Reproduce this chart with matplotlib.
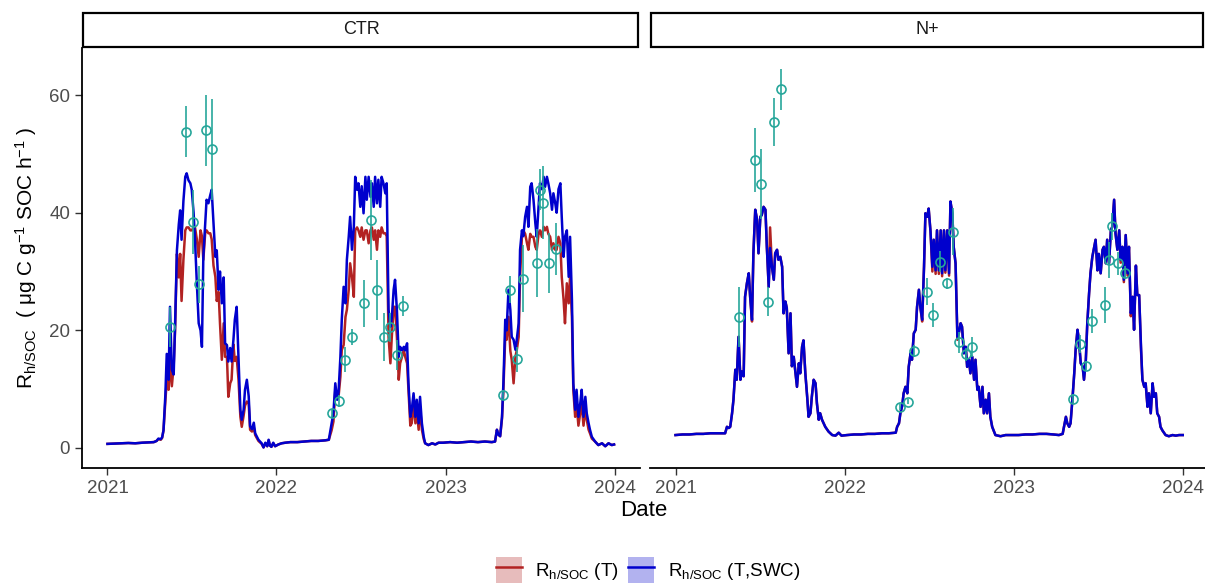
import numpy as np
import matplotlib
matplotlib.use("Agg")
import matplotlib.pyplot as plt
from matplotlib.patches import Patch, Rectangle
from matplotlib.lines import Line2D

plt.rcParams['font.family'] = ['Liberation Sans', 'DejaVu Sans']
plt.rcParams['mathtext.fontset'] = 'custom'
plt.rcParams['mathtext.rm'] = 'Liberation Sans'
plt.rcParams['mathtext.it'] = 'Liberation Sans:italic'
plt.rcParams['mathtext.default'] = 'regular'

# ---------------- data (day offsets from 2021-01-01) ----------------
panels = ["CTR", "N+"]
years = [2021, 2022, 2023, 2024]
y_ticks = [0, 20, 40, 60]

ctr_days = [
    0, 15, 30, 45, 60, 75, 90, 100, 106, 110, 115, 118,
    121, 125, 128, 132, 135, 139, 143, 146, 150, 154, 157, 160, 164, 168, 171, 175, 179, 182, 186, 189,
    193, 197, 201, 204, 207, 211, 214, 218, 222, 225, 229, 233, 236, 240, 243, 247, 251, 254, 258, 261,
    265, 268, 272, 275, 279, 283, 287, 290, 294, 297, 301, 305, 308, 312, 316, 319, 326, 333, 337, 341,
    345, 348, 351, 354, 358, 362, 369, 376, 384,
    395, 410, 425, 440, 455, 470, 478,
    484, 488, 492, 496, 499, 503, 506, 510, 514, 517, 521, 524, 528, 532, 535, 539, 542, 546, 549, 553,
    557, 560, 564, 568, 571, 575, 578, 582, 585, 589, 592, 596, 600, 603, 605, 607, 611, 614, 618, 621,
    625, 629, 632, 636, 640, 643, 647, 650, 654, 657, 661, 665, 668, 672, 675, 679, 683, 686, 693, 701,
    708, 715,
    725, 740, 755, 770, 785, 800, 815, 830, 837,
    841, 844, 848, 852, 855, 859, 862, 866, 870, 873, 877, 881, 884, 888, 891, 895, 898, 902, 906, 909,
    913, 916, 920, 924, 927, 931, 934, 938, 942, 945, 949, 952, 956, 960, 963, 967, 970, 974, 978, 981,
    985, 988, 992, 996, 999, 1003, 1006, 1010, 1013, 1017, 1021, 1024, 1028, 1032, 1035, 1039, 1042, 1046,
    1053, 1060, 1068, 1075, 1082, 1089, 1094]

ctr_swc = [
    0.7, 0.75, 0.8, 0.85, 0.8, 0.9, 0.95, 1.0, 1.2, 1.6, 1.5, 1.8,
    3, 9, 16, 11.6, 24, 13.3, 12.5, 21, 33.6, 38, 40.4, 35.4, 42, 46.1, 46.7, 45.5, 45, 43.9, 40, 35.4,
    28, 21.2, 20, 17.2, 32.5, 38.2, 42.2, 41.6, 43, 43.9, 38.2, 32.5, 33.6, 26.9, 30, 24.6, 29, 17.8, 17.5, 14.7,
    17, 14.7, 18.4, 21.8, 24, 15.5, 6.5, 4.8, 6.5, 9.9, 11.6, 8.8, 3.7, 3.2, 4.3, 2.5, 1.4, 0.8, 0.1, 0.9,
    0.3, 1.4, 0.4, 0.2, 0.9, 0.3, 0.6, 0.8, 0.9,
    1.0, 1.0, 1.1, 1.2, 1.2, 1.3, 1.4,
    4.2, 6, 11, 8.2, 9.5, 15.5, 21.8, 27.4, 24.6, 32, 35.9, 39.3, 33.7, 37.6, 46.1, 43.9, 45, 41, 44.5, 39.9,
    46.1, 42.2, 46.1, 42.7, 45, 41, 46.1, 41.6, 45.6, 41, 46.1, 45, 43.3, 45, 33.7, 23.5, 20.6, 22.1, 26.9, 28.6,
    23.5, 15.5, 17.2, 16.6, 17.2, 16.6, 17.8, 11, 5.3, 6.4, 9.3, 5.3, 8.2, 4.2, 8.7, 4.2, 1.9, 0.8, 0.5, 0.8,
    0.6, 0.9,
    0.9, 1.0, 0.9, 1.0, 1.1, 1.0, 1.1, 1.0, 1.1,
    3.1, 2.3, 2.0, 5.3, 11, 21.8, 20, 26.9, 23.5, 18.9, 18.4, 16.7, 18.5, 21.2, 33.7, 37, 36, 39.3, 41, 37.6,
    44.4, 45, 42.2, 38.2, 35.9, 41, 45, 44, 46.1, 44.4, 46.1, 45, 43.3, 40.5, 43.3, 41.6, 40, 44, 45, 39.3,
    32.5, 35.9, 37, 29.1, 35.9, 25.2, 11, 6.5, 9.9, 5.3, 7.6, 9.9, 5.3, 8.7, 5.9, 4.2, 3.1, 1.9,
    1.1, 0.5, 0.8, 0.3, 0.8, 0.5, 0.6]

ctr_t = [
    0.7, 0.75, 0.8, 0.85, 0.8, 0.9, 0.95, 1.0, 1.2, 1.5, 1.4, 1.7,
    3, 8, 11.6, 9.9, 15, 10.5, 14, 20, 33, 29, 33, 25, 32, 37, 37.5, 37.5, 37, 37, 37.5, 37.5,
    35.5, 32.5, 37, 36, 32, 36.5, 37, 36.5, 36.5, 35.5, 31, 29.1, 25, 26.5, 21.2, 15, 21.2, 15.5, 15.5, 8.7,
    11, 11.6, 17.6, 14.8, 15.5, 11.6, 5.3, 3.6, 5.5, 7.2, 7.9, 7.5, 3.1, 2.8, 3.5, 2.2, 1.2, 0.7, 0.1, 0.8,
    0.3, 1.3, 0.4, 0.2, 0.8, 0.3, 0.6, 0.8, 0.9,
    1.0, 1.0, 1.1, 1.2, 1.2, 1.3, 1.4,
    3.0, 4.5, 9.9, 8.5, 8.7, 12.1, 16.7, 17.5, 22.3, 23.5, 26.9, 31.4, 29.1, 25.7, 37, 37.5, 37, 35.9, 37.5, 35.4,
    37, 37, 34.8, 37, 37.5, 35.4, 37, 33.7, 37, 35.9, 37.5, 36.5, 36.5, 36, 28, 18.9, 14.4, 18.9, 24, 24,
    18.9, 11.6, 14.4, 15.5, 16.6, 15.5, 14.4, 9.9, 3.8, 4.2, 7.6, 4.2, 6.4, 3.1, 7.0, 3.1, 1.5, 0.8, 0.5, 0.8,
    0.6, 0.9,
    0.9, 1.0, 0.9, 1.0, 1.1, 1.0, 1.1, 1.0, 1.1,
    3.1, 2.3, 2.0, 5.0, 9.9, 18.9, 18.4, 22.3, 16.5, 15, 11, 15.5, 16.7, 18.9, 29.1, 35.9, 37, 36.4, 34.8, 33.7,
    36.4, 35.9, 35.9, 34.2, 33.7, 36.4, 37, 35.9, 37.6, 37, 37.6, 36.4, 35.9, 33.7, 34.8, 33.7, 33.7, 35.9, 34.8, 29.1,
    25.2, 21.2, 28, 24.6, 29.1, 22.3, 9.9, 5.3, 7.6, 3.8, 6, 7.6, 3.8, 6.8, 4.8, 3.1, 2.5, 1.6,
    1.1, 0.5, 0.8, 0.3, 0.8, 0.5, 0.6]

np_days = [
    0, 15, 30, 45, 60, 75, 93, 107, 111, 115, 118,
    122, 125, 129, 132, 136, 140, 143, 147, 150, 154, 158, 161, 165, 168, 172, 176, 179, 183, 186, 190,
    194, 197, 201, 204, 208, 212, 215, 219, 222, 226, 230, 233, 237, 240, 244, 248, 251, 255, 258, 262,
    266, 269, 273, 276, 280, 284, 287, 291, 294, 298, 302, 305, 309, 312, 316, 323, 330, 338, 345, 352, 358,
    370, 385, 400, 415, 430, 445, 460, 475,
    478, 482, 485, 489, 492, 496, 500, 503, 507, 510, 514, 518, 521, 525, 528, 532, 536, 539, 543, 546,
    550, 554, 557, 561, 564, 568, 572, 575, 579, 582, 586, 590, 593, 597, 600, 604, 608, 611, 615, 618,
    622, 626, 629, 633, 636, 640, 644, 647, 651, 654, 658, 662, 665, 669, 672, 676, 679, 683, 690, 701, 712,
    725, 740, 755, 770, 785, 800, 815, 827, 835,
    842, 845, 849, 852, 856, 860, 863, 867, 870, 874, 878, 881, 885, 888, 892, 895, 899, 903, 906, 910,
    913, 917, 921, 924, 928, 931, 935, 939, 942, 946, 949, 953, 957, 960, 964, 967, 971, 975, 978, 982,
    986, 989, 993, 996, 1000, 1004, 1007, 1011, 1014, 1018, 1021, 1025, 1029, 1032, 1036, 1039, 1043, 1046,
    1050, 1057, 1064, 1072, 1079, 1086, 1094]

np_swc = [
    2.2, 2.3, 2.3, 2.4, 2.4, 2.5, 2.5, 2.5, 3.6, 3.4, 3.6,
    5.9, 8.2, 13.3, 11.6, 18.9, 11.6, 13, 12.2, 25.7, 28, 29.7, 25.7, 21.8, 33.1, 40.5, 38.8, 33.1, 39.3, 39.6, 41,
    40.5, 34.2, 27.4, 34, 30.8, 28.6, 33.1, 33.7, 32, 32.5, 30.8, 22.9, 24.9, 23.8, 16.1, 22.9, 13.9, 15.5, 13.3, 10.4,
    14.4, 12.7, 17.2, 18.3, 12.7, 8.7, 5.3, 5.9, 8.7, 11.6, 11, 7.6, 4.8, 5.9, 4.8, 3.6, 2.8, 2.2, 2.1, 2.6, 2.1,
    2.2, 2.3, 2.3, 2.4, 2.4, 2.5, 2.5, 2.6,
    3.6, 4.2, 5.9, 7.2, 9.3, 10.4, 9.3, 13.8, 16.1, 15, 19.5, 20.1, 24, 26.9, 24, 21.8, 30.8, 39.9, 39.3, 40.7,
    36.8, 30.8, 35.4, 30.2, 37, 30.2, 37, 29.7, 37, 30.2, 37, 29.7, 41.9, 39.9, 34.2, 31.4, 18.9, 19.5, 21.2, 20.6,
    16.1, 17.2, 13.8, 15, 12.7, 15.5, 11.6, 15, 9.9, 10.4, 7, 10.4, 5.9, 8.2, 5.9, 9.3, 5.3, 3.6, 2.2, 2.0, 2.2,
    2.2, 2.2, 2.3, 2.3, 2.4, 2.4, 2.3, 2.2, 2.4,
    5.3, 4.2, 3.6, 4.2, 8.2, 12.7, 16.7, 20.1, 18.4, 14.4, 13.9, 11.6, 15, 21, 26.3, 29.7, 32.5, 34.2, 35.4, 30.2,
    33, 29.7, 33.7, 34.2, 31.4, 35.4, 31.4, 37, 37.6, 42.2, 36.5, 33.7, 37, 32, 34.2, 28.6, 36.2, 29.7, 34.2, 22.9,
    25.7, 20.1, 31, 26, 26, 17.2, 11.6, 10.4, 11, 7, 9.3, 5.9, 11, 8.7, 9.3, 5.9, 5.3, 3.6,
    3.0, 2.2, 2.0, 2.2, 2.1, 2.2, 2.2]

np_t = [
    2.2, 2.3, 2.3, 2.4, 2.4, 2.5, 2.5, 2.5, 3.6, 3.4, 3.6,
    5.9, 8.2, 13.3, 11.6, 18.9, 11.6, 13, 12.2, 25.7, 28, 29.7, 25.7, 21.5, 33.1, 40.5, 38.8, 33.1, 39.3, 39.6, 41,
    40.5, 34.2, 27.4, 37.5, 30.8, 28.6, 33.1, 33.7, 32, 32.5, 30.8, 22.9, 24.9, 23.8, 16.1, 22.9, 13.9, 15.5, 13.3, 10.4,
    14.4, 12.7, 17.2, 18.3, 12.7, 8.7, 5.3, 5.9, 8.7, 11.6, 11, 7.6, 4.8, 5.9, 4.8, 3.6, 2.8, 2.2, 2.1, 2.6, 2.1,
    2.2, 2.3, 2.3, 2.4, 2.4, 2.5, 2.5, 2.6,
    3.6, 4.2, 5.9, 7.2, 9.3, 10.4, 9.3, 13.8, 16.1, 15, 19.5, 20.1, 24, 26.9, 24, 21.5, 30.8, 39.9, 39.3, 40.7,
    36.8, 30.0, 35.4, 29.6, 37, 29.6, 37, 29.2, 37, 29.8, 37, 29.3, 41.9, 39.9, 34.2, 31.4, 18.4, 19.5, 21.2, 20.6,
    16.1, 17.2, 13.8, 15, 12.7, 15.5, 11.6, 15, 9.9, 10.4, 7, 10.4, 5.9, 8.2, 5.9, 9.3, 5.3, 3.6, 2.2, 2.0, 2.2,
    2.2, 2.2, 2.3, 2.3, 2.4, 2.4, 2.3, 2.2, 2.4,
    5.3, 4.2, 3.6, 4.2, 8.2, 12.7, 16.7, 20.1, 18.4, 14.4, 13.9, 11.6, 15, 21, 26.3, 29.7, 32.5, 34.2, 35.4, 30.2,
    33, 29.7, 33.7, 34.2, 31.4, 35.4, 31.4, 37, 37.6, 42.2, 36.5, 33.7, 37, 31.5, 34.2, 28.2, 36.2, 29.3, 34.2, 22.4,
    25.7, 20.1, 31, 26, 26, 16.6, 11.6, 10.4, 11, 7, 9.3, 5.9, 11, 8.7, 9.3, 5.9, 5.3, 3.6,
    3.0, 2.2, 2.0, 2.2, 2.1, 2.2, 2.2]

# observations: day offset, mean, error half-width
ctr_obs_day = [134, 170, 184, 197, 212, 225,
               484, 499, 513, 528, 555, 569, 583, 598, 611, 625, 639,
               855, 870, 884, 898, 927, 933, 940, 954, 968]
ctr_obs_val = [20.6, 53.8, 38.4, 27.8, 54.0, 50.8,
               5.9, 8.0, 15.0, 18.9, 24.6, 38.8, 26.9, 18.9, 20.5, 15.8, 24.2,
               9.0, 26.9, 15.1, 28.8, 31.4, 43.9, 41.7, 31.4, 33.8]
ctr_obs_err = [3.4, 4.4, 5.5, 3.1, 6.0, 8.6,
               0.6, 1.0, 2.1, 1.4, 4.0, 6.8, 5.1, 4.1, 2.5, 2.5, 1.7,
               0.8, 2.3, 2.1, 5.7, 5.8, 3.5, 6.2, 5.1, 4.4]

np_obs_day = [136, 171, 185, 199, 213, 227,
              485, 501, 514, 543, 556, 570, 585, 598, 611, 626, 640,
              857, 872, 886, 899, 927, 935, 941, 955, 970]
np_obs_val = [22.3, 49.0, 44.9, 24.9, 55.4, 61.0,
              6.9, 7.9, 16.5, 26.6, 22.6, 31.7, 28.0, 36.8, 18.0, 15.9, 17.2,
              8.4, 17.7, 14.0, 21.6, 24.3, 32.0, 37.7, 31.4, 29.8]
np_obs_err = [5.1, 5.4, 6.0, 2.4, 4.1, 3.5,
              0.5, 0.5, 1.0, 2.3, 2.0, 1.8, 0.9, 4.0, 1.8, 1.1, 1.7,
              0.8, 1.5, 0.8, 2.1, 3.1, 3.1, 2.3, 2.0, 1.1]

legend_labels = [r'R$_{h/SOC}$ (T)', r'R$_{h/SOC}$ (T,SWC)']

# ---------------- styling ----------------
RED = '#B22222'
BLUE = '#0000CD'
TEAL = '#26A69A'
GREY = '#4D4D4D'

base = np.datetime64('2021-01-01')


def to_dates(days):
    return base + np.array(days, dtype='timedelta64[D]')


W, H = 1205, 583
fig = plt.figure(figsize=(W / 100, H / 100), dpi=100)

ax_l = fig.add_axes([82 / W, 1 - 468 / H, 558 / W, 420 / H])
ax_r = fig.add_axes([650 / W, 1 - 468 / H, 555 / W, 420 / H])

series = [
    (ax_l, ctr_days, ctr_t, ctr_swc, ctr_obs_day, ctr_obs_val, ctr_obs_err, (-55, 1150)),
    (ax_r, np_days, np_t, np_swc, np_obs_day, np_obs_val, np_obs_err, (-55, 1142)),
]

for i, (ax, days, vt, vs, od, ov, oe, xl) in enumerate(series):
    d = to_dates(days)
    ax.plot(d, vt, color=RED, lw=1.8, zorder=2, solid_joinstyle='round')
    ax.plot(d, vs, color=BLUE, lw=1.8, zorder=3, solid_joinstyle='round')
    ax.errorbar(to_dates(od), ov, yerr=oe, fmt='none', ecolor=TEAL, elinewidth=1.4,
                alpha=0.85, zorder=4)
    ax.plot(to_dates(od), ov, 'o', mfc='none', mec=TEAL, mew=1.2, ms=6.5, zorder=5)

    ax.set_xlim(base + np.timedelta64(xl[0], 'D'), base + np.timedelta64(xl[1], 'D'))
    ax.set_ylim(-3.4, 68)
    ax.set_xticks([np.datetime64(f'{y}-01-01') for y in years])
    ax.set_xticklabels([str(y) for y in years])
    ax.set_yticks(y_ticks)
    ax.tick_params(axis='both', colors='#333333', labelcolor=GREY, labelsize=13.5,
                   length=5, width=1.0, direction='out')
    for s in ['top', 'right']:
        ax.spines[s].set_visible(False)
    ax.spines['bottom'].set_linewidth(1.3)
    ax.spines['left'].set_linewidth(1.3)
    if i == 1:
        ax.spines['left'].set_visible(False)
        ax.tick_params(axis='y', left=False, labelleft=False)
    # strip
    strip = Rectangle((0.002, 1.003), 0.994, 0.08, transform=ax.transAxes, facecolor='white',
                      edgecolor='black', lw=1.6, clip_on=False, zorder=10)
    ax.add_patch(strip)
    ax.text(0.5, 1.043, panels[i], transform=ax.transAxes, ha='center', va='center',
            fontsize=13, color='#1A1A1A', zorder=11)

ax_l.set_ylabel(r'R$_{h/SOC}$  ( μg C g$^{-1}$ SOC h$^{-1}$ )', fontsize=15, labelpad=7)
fig.text(644 / W, 1 - 510 / H, 'Date', ha='center', va='center', fontsize=16)

handles = [
    (Patch(facecolor=RED, alpha=0.3, edgecolor='none'), Line2D([0], [0], color=RED, lw=1.8)),
    (Patch(facecolor=BLUE, alpha=0.3, edgecolor='none'), Line2D([0], [0], color=BLUE, lw=1.8)),
]
fig.legend(handles, legend_labels, loc='center', bbox_to_anchor=(648 / W, 1 - 570 / H), ncol=2,
           frameon=False, fontsize=13.5, handlelength=1.4, handleheight=1.75,
           handletextpad=0.7, columnspacing=0.5, borderaxespad=0)

fig.savefig('out.png', dpi=100)
